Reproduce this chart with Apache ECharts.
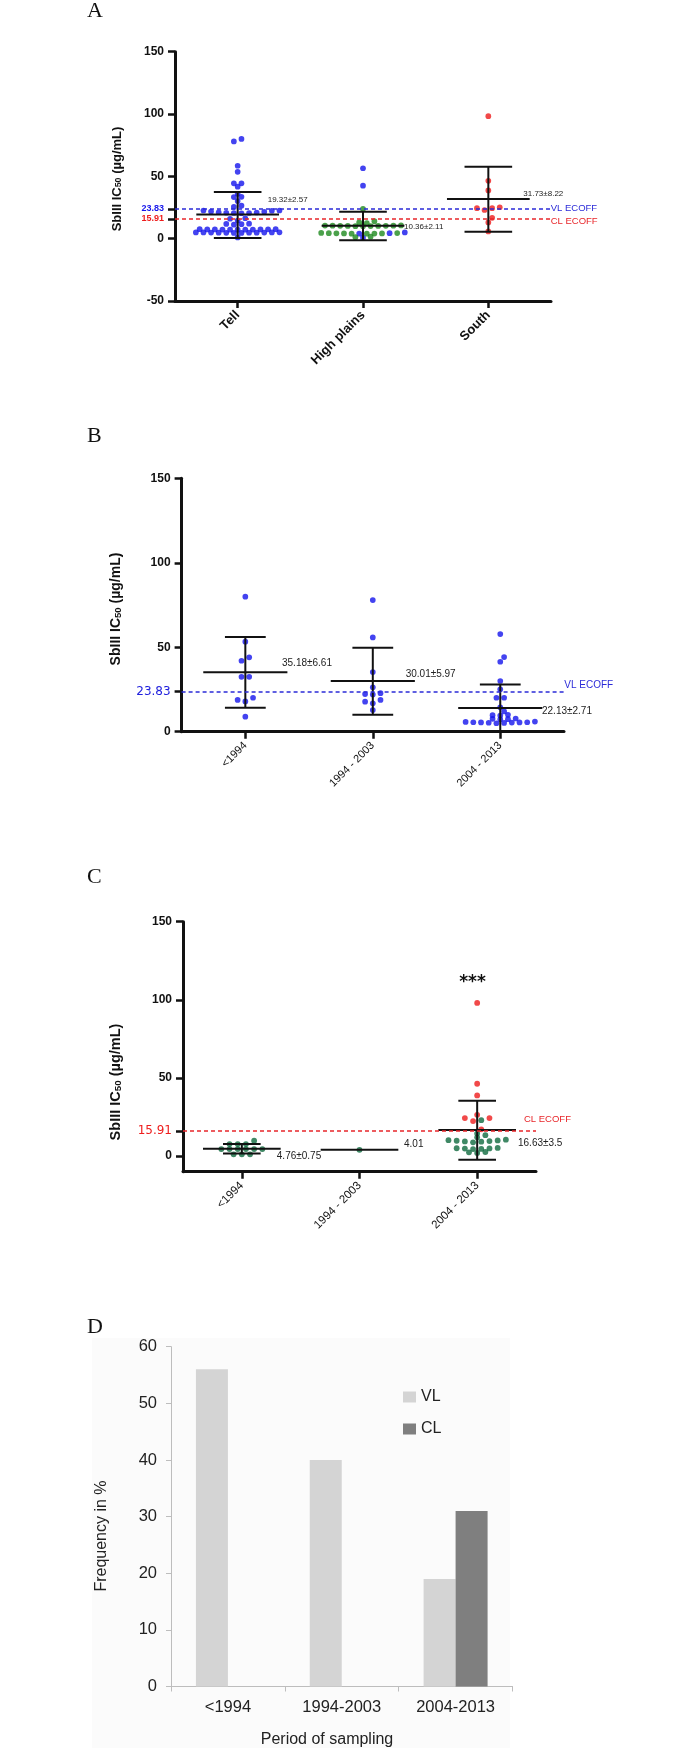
<!DOCTYPE html>
<html><head><meta charset="utf-8">
<script src="https://cdn.jsdelivr.net/npm/echarts@6/dist/echarts.min.js"></script>
<style>html,body{margin:0;padding:0;background:#fff}#c{width:700px;height:1748px}</style>
</head><body><div id="c"></div>
<script>
// ---------- Panel A : by region ----------
const regionCats = ['Tell', 'High plains', 'South'];
const tellBlue = [1.0,
  4.6, 4.6, 4.7, 4.8, 4.8, 4.8, 4.9, 4.9, 5.0, 5.0, 5.0, 5.1,
  7.2, 7.2, 7.2, 7.3, 7.3, 7.4, 7.4, 7.4, 7.5, 7.6, 7.6,
  11.2, 11.6, 11.8, 12.0, 14.6, 16.0, 16.4,
  20.4, 20.6, 20.6, 20.8, 21.0, 21.2, 21.6, 21.8, 22.4, 22.6, 22.6,
  25.5, 26.5, 30.2, 33.4, 33.6, 36.0, 41.7, 44.4, 44.4, 53.6, 58.5, 78.0, 80.0];
const highPlainsBlue = [56.5, 42.5, 5.0, 4.4, 4.0, 0.8];
const highPlainsGreen = [23.9, 14.0, 13.0, 12.4, 10.0, 10.0, 10.1, 10.2, 10.2, 10.3, 10.3, 10.4, 10.4, 10.5, 10.6,
  4.0, 4.0, 4.1, 4.2, 4.2, 4.3, 4.4, 4.5, 4.6, 1.6, 1.2];
const southRed = [98.3, 46.4, 38.7, 25.2, 24.5, 24.5, 23.0, 16.7, 13.0, 5.8];
const regionMean = [19.32, 10.36, 31.73];
const regionLow = [0.5, -1.2, 5.6];
const regionHigh = [37.4, 21.7, 57.8];
const regionLabels = ['19.32\u00b12.57', '10.36\u00b12.11', '31.73\u00b18.22'];
const yTicksA = [-50, 0, 50, 100, 150];

// ---------- Panel B : VL by period ----------
const periodCats = ['<1994', '1994 - 2003', '2004 - 2013'];
const vlBefore1994 = [79.9, 53.3, 44.0, 42.0, 32.5, 32.5, 20.1, 18.8, 17.9, 8.9];
const vl1994to2003 = [77.9, 55.8, 35.3, 26.3, 22.8, 22.3, 22.0, 18.8, 17.8, 16.8, 12.8];
const vl2004to2013 = [57.8, 44.2, 41.4, 30.0, 25.1, 20.1, 20.1, 14.4, 12.0, 10.0, 9.8, 9.6,
  7.8, 7.6, 7.4, 7.3, 5.0, 5.2, 5.3, 5.4, 5.5, 5.5, 5.6, 5.6, 5.8, 6.0];
const vlMean = [35.18, 30.01, 14.0];
const vlLow = [14.2, 10.1, 0];
const vlHigh = [56.0, 49.7, 28.0];
const vlLabels = ['35.18\u00b16.61', '30.01\u00b15.97', '22.13\u00b12.71'];
const yTicksB = [0, 50, 100, 150];

// ---------- Panel C : CL by period ----------
const clBefore1994Green = [9.8, 7.7, 7.7, 7.7, 4.5, 4.5, 4.5, 4.5, 4.5, 4.5, 1.1, 1.1, 1.1];
const cl1994to2003Green = [4.01];
const cl2004to2013Red = [98.0, 46.3, 38.8, 26.4, 24.3, 24.3, 22.4, 17.1];
const cl2004to2013Green = [23.0, 14.5, 13.4, 12.0, 10.5, 10.2, 10.0, 9.8, 9.6, 9.4, 9.2, 8.8,
  5.2, 5.0, 4.9, 4.8, 4.6, 4.5, 2.6, 2.4, 2.0];
const clMean = [4.76, 4.01, 16.63];
const clLow = [1.7, null, -2.4];
const clHigh = [7.7, null, 35.4];
const clLabels = ['4.76\u00b10.75', '4.01', '16.63\u00b13.5'];
const yTicksC = [0, 50, 100, 150];

// ---------- Panel D : frequency ----------
const periodCatsD = ['<1994', '1994-2003', '2004-2013'];
const freqVL = [56, 40, 19];
const freqCL = [0, 0, 31];

const vlEcoff = 23.83;
const clEcoff = 15.91;

// ---------- styling ----------
const BLUE = '#1414ec', GREEN_A = '#1e8a1e', GREEN_C = '#0f6a3e', RED = '#ee1c1c';
const LINE_BLUE = '#2b2bd8', LINE_RED = '#e8262a';
const SANS = "'Liberation Sans', Arial, sans-serif";
const NARROW = "'Liberation Sans Narrow', 'Arial Narrow', 'Liberation Sans', sans-serif";
const gA = {left: 175, top: 51.7, width: 376, height: 249.3};
const gB = {left: 181.6, top: 478.3, width: 382.4, height: 253.4};
const gC = {left: 183, top: 921.7, width: 353, height: 250};
const gD = {left: 171, top: 1346.7, width: 341.5, height: 339.8};

// scatter-dot-plot layout: values close together share a row, rows are centred
function rowLayout(vals, ppu, rowUnits, s, dot) {
  const idx = vals.map((v, i) => i).sort((a, b) => vals[a] - vals[b]);
  const rows = []; let cur = null;
  for (const i of idx) {
    if (!cur || vals[i] - vals[cur[0]] > rowUnits) { cur = [i]; rows.push(cur); } else cur.push(i);
  }
  const off = new Array(vals.length); let prev = null;
  for (const r of rows) {
    const n = r.length; let shift = 0;
    if (prev && (vals[r[0]] - vals[prev.r[prev.r.length - 1]]) * ppu < dot && (n % 2) === (prev.r.length % 2))
      shift = prev.shift === 0 ? s / 2 : 0;
    const pos = [];
    for (let k = 0; k < n; k++) pos.push((k - (n - 1) / 2) * s);
    pos.sort((a, b) => Math.abs(a) - Math.abs(b) || a - b);
    r.forEach((i, k) => { off[i] = pos[k] + shift; });
    prev = {r, shift};
  }
  return off;
}
function dots(groups, ppu, s) {
  const byCat = {};
  groups.forEach(g => g.vals.forEach(v => (byCat[g.cat] = byCat[g.cat] || []).push({v, color: g.color})));
  const out = [];
  Object.keys(byCat).forEach(k => {
    const pts = byCat[k];
    const off = rowLayout(pts.map(p => p.v), ppu, 2.25, s, 5);
    pts.forEach((p, i) => out.push({value: [+k, p.v], symbolOffset: [off[i], 0], itemStyle: {color: p.color}}));
  });
  return out;
}
function errRender(capFrac) {
  return function (params, api) {
    const cat = api.value(0), m = api.value(1), lo = api.value(2), hi = api.value(3);
    const c = api.coord([cat, m]);
    const band = api.size([1, 0])[0];
    const mh = band * 0.33, ch = band * capFrac;
    const st = {stroke: '#111', lineWidth: 2};
    const kids = [{type: 'line', shape: {x1: c[0] - mh, y1: c[1], x2: c[0] + mh, y2: c[1]}, style: st}];
    if (!isNaN(lo) && !isNaN(hi)) {
      const t = api.coord([cat, hi]), b = api.coord([cat, lo]);
      kids.push({type: 'line', shape: {x1: c[0], y1: t[1], x2: c[0], y2: b[1]}, style: st},
        {type: 'line', shape: {x1: c[0] - ch, y1: t[1], x2: c[0] + ch, y2: t[1]}, style: st},
        {type: 'line', shape: {x1: c[0] - ch, y1: b[1], x2: c[0] + ch, y2: b[1]}, style: st});
    }
    return {type: 'group', children: kids};
  };
}
function zip(mean, lo, hi) { return mean.map((m, i) => [i, m, lo[i] == null ? NaN : lo[i], hi[i] == null ? NaN : hi[i]]); }
function ecoffFmt(v) {
  if (Math.abs(v - vlEcoff) < 1e-6) return '{vl|' + v + '}';
  if (Math.abs(v - clEcoff) < 1e-6) return '{cl|' + v + '}';
  return '{n|' + v + '}';
}
function valueAxis(grid, min, max, ticks, richVl, richCl) {
  return {
    type: 'value', gridIndex: grid, min, max, splitLine: {show: false},
    axisLine: {show: true, lineStyle: {color: '#111', width: 3}},
    axisTick: {show: true, length: 7, lineStyle: {color: '#111', width: 2.5}, customValues: ticks},
    axisLabel: {margin: 11, customValues: ticks, formatter: ecoffFmt,
      rich: {n: {fontSize: 12, fontWeight: 'bold', color: '#111', fontFamily: SANS}, vl: richVl, cl: richCl}}
  };
}
function catAxis(grid, data, fontSize, bold) {
  return {
    type: 'category', gridIndex: grid, data,
    axisLine: {show: true, onZero: false, lineStyle: {color: '#111', width: 3}},
    axisTick: {show: true, alignWithLabel: true, length: 7, lineStyle: {color: '#111', width: 2.5}},
    axisLabel: {rotate: 45, interval: 0, margin: 12, fontSize, fontWeight: bold ? 'bold' : 'normal', color: '#111', fontFamily: SANS}
  };
}
function T(x, y, text, o) {
  return {type: 'text', x, y, silent: true, style: Object.assign({text, align: 'left', verticalAlign: 'middle', fill: '#222', fontFamily: SANS}, o || {})};
}
function yTitle(x, y, size) {
  return {type: 'text', x, y, rotation: Math.PI / 2, silent: true, style: {
    text: '{a|SbIII IC}{s|50}{a| (\u00b5g/mL)}', align: 'center', verticalAlign: 'middle', fill: '#111',
    rich: {a: {fontSize: size, fontWeight: 'bold', fontFamily: SANS, lineHeight: size + 4, verticalAlign: 'bottom', fill: '#111'},
      s: {fontSize: size * 0.68, fontWeight: 'bold', fontFamily: SANS, lineHeight: size + 4, verticalAlign: 'bottom', fill: '#111'}}}};
}

const ppuA = gA.height / 200, ppuB = gB.height / 150, ppuC = gC.height / 160;
const dotsA = dots([{cat: 0, vals: tellBlue, color: BLUE}, {cat: 1, vals: highPlainsBlue, color: BLUE},
  {cat: 1, vals: highPlainsGreen, color: GREEN_A}, {cat: 2, vals: southRed, color: RED}], ppuA, 7.6);
const dotsB = dots([{cat: 0, vals: vlBefore1994, color: BLUE}, {cat: 1, vals: vl1994to2003, color: BLUE},
  {cat: 2, vals: vl2004to2013, color: BLUE}], ppuB, 7.7);
const dotsC = dots([{cat: 0, vals: clBefore1994Green, color: GREEN_C}, {cat: 1, vals: cl1994to2003Green, color: GREEN_C},
  {cat: 2, vals: cl2004to2013Green, color: GREEN_C}, {cat: 2, vals: cl2004to2013Red, color: RED}], ppuC, 8.2);

const ml = (lines) => ({silent: true, symbol: 'none', label: {show: false}, animation: false,
  data: lines.map(l => ({yAxis: l[0], lineStyle: {color: l[1], type: [4, 3], width: 1.6}}))});
const gridOpt = g => Object.assign({outerBoundsMode: 'none', containLabel: false}, g);

const chart = echarts.init(document.getElementById('c'), null, {renderer: 'canvas'});
chart.setOption({
  animation: false, backgroundColor: '#fff',
  grid: [gridOpt(gA), gridOpt(gB), gridOpt(gC), gridOpt(gD)],
  xAxis: [catAxis(0, regionCats, 13, true), catAxis(1, periodCats, 11, false), catAxis(2, periodCats, 11.5, false),
    {type: 'category', gridIndex: 3, data: periodCatsD,
      axisLine: {show: true, lineStyle: {color: '#bdbdbd', width: 1}},
      axisTick: {show: true, length: 5, lineStyle: {color: '#bdbdbd'}},
      axisLabel: {fontSize: 16.5, color: '#222', margin: 12, fontFamily: SANS}}],
  yAxis: [
    valueAxis(0, -50, 150, yTicksA.concat([clEcoff, vlEcoff]),
      {fontSize: 9, fontWeight: 'bold', color: BLUE, fontFamily: SANS}, {fontSize: 9, fontWeight: 'bold', color: RED, fontFamily: SANS}),
    valueAxis(1, 0, 150, yTicksB.concat([vlEcoff]),
      {fontSize: 12, color: '#2020dd', fontFamily: "'DejaVu Sans', sans-serif"}, {}),
    valueAxis(2, -10, 150, yTicksC.concat([clEcoff]),
      {}, {fontSize: 12, color: RED, fontFamily: "'DejaVu Sans', sans-serif"}),
    {type: 'value', gridIndex: 3, min: 0, max: 60, interval: 10, splitLine: {show: false},
      axisLine: {show: true, lineStyle: {color: '#bdbdbd', width: 1}},
      axisTick: {show: true, length: 5, lineStyle: {color: '#bdbdbd'}},
      axisLabel: {fontSize: 16.5, color: '#222', margin: 14, fontFamily: SANS}}
  ],
  legend: {show: true, data: ['VL', 'CL'], orient: 'vertical', left: 403, top: 1389, itemWidth: 13, itemHeight: 11,
    itemGap: 16, icon: 'rect', padding: 0, textStyle: {fontSize: 16, color: '#222', fontFamily: SANS}},
  series: [
    {type: 'scatter', xAxisIndex: 0, yAxisIndex: 0, symbolSize: 5.7, data: dotsA, z: 2,
      markLine: ml([[vlEcoff, LINE_BLUE], [clEcoff, LINE_RED]])},
    {type: 'custom', xAxisIndex: 0, yAxisIndex: 0, renderItem: errRender(0.19), encode: {x: 0, y: 1}, z: 4,
      data: zip(regionMean, regionLow, regionHigh)},
    {type: 'scatter', xAxisIndex: 1, yAxisIndex: 1, symbolSize: 5.7, data: dotsB, z: 2,
      markLine: ml([[vlEcoff, LINE_BLUE]])},
    {type: 'custom', xAxisIndex: 1, yAxisIndex: 1, renderItem: errRender(0.16), encode: {x: 0, y: 1}, z: 4,
      data: zip(vlMean, vlLow, vlHigh)},
    {type: 'scatter', xAxisIndex: 2, yAxisIndex: 2, symbolSize: 5.8, data: dotsC, z: 2,
      markLine: ml([[clEcoff, LINE_RED]])},
    {type: 'custom', xAxisIndex: 2, yAxisIndex: 2, renderItem: errRender(0.16), encode: {x: 0, y: 1}, z: 4,
      data: zip(clMean, clLow, clHigh)},
    {type: 'bar', name: 'VL', xAxisIndex: 3, yAxisIndex: 3, data: freqVL, barWidth: 32, barGap: '0%', itemStyle: {color: '#d4d4d4'}},
    {type: 'bar', name: 'CL', xAxisIndex: 3, yAxisIndex: 3, data: freqCL, barWidth: 32, barGap: '0%', itemStyle: {color: '#7f7f7f'}}
  ],
  graphic: [
    {type: 'rect', silent: true, z: -10, shape: {x: 92, y: 1338, width: 418, height: 410}, style: {fill: '#fbfbfb'}},
    T(87, 11, 'A', {fontFamily: "'Liberation Serif', serif", fontSize: 22, fill: '#111'}),
    T(87, 436.7, 'B', {fontFamily: "'Liberation Serif', serif", fontSize: 22, fill: '#111'}),
    T(87, 877.7, 'C', {fontFamily: "'Liberation Serif', serif", fontSize: 22, fill: '#111'}),
    T(87, 1326.8, 'D', {fontFamily: "'Liberation Serif', serif", fontSize: 22, fill: '#111'}),
    yTitle(115, 179, 13), yTitle(114, 609, 14), yTitle(114, 1082, 14.5),
    {type: 'text', x: 102, y: 1536, rotation: Math.PI / 2, silent: true,
      style: {text: 'Frequency in %', align: 'center', verticalAlign: 'middle', fill: '#222', fontSize: 16, fontFamily: SANS}},
    T(327, 1740, 'Period of sampling', {align: 'center', fontSize: 16}),
    T(267.7, 199.3, regionLabels[0], {fontSize: 8}),
    T(404, 227, regionLabels[1], {fontSize: 8}),
    T(523.3, 193.3, regionLabels[2], {fontSize: 8}),
    T(550.7, 208.5, 'VL ECOFF', {fontSize: 9.5, fill: LINE_BLUE}),
    T(550.7, 221, 'CL ECOFF', {fontSize: 9.5, fill: LINE_RED}),
    T(282, 663.7, vlLabels[0], {fontSize: 10, fontFamily: NARROW}),
    T(405.7, 674, vlLabels[1], {fontSize: 10, fontFamily: NARROW}),
    T(542, 711.7, vlLabels[2], {fontSize: 10, fontFamily: NARROW}),
    T(564.3, 685.3, 'VL ECOFF', {fontSize: 10, fill: LINE_BLUE}),
    T(276.8, 1156.7, clLabels[0], {fontSize: 10, fontFamily: NARROW}),
    T(404, 1144, clLabels[1], {fontSize: 10, fontFamily: NARROW}),
    T(518, 1143.3, clLabels[2], {fontSize: 10, fontFamily: NARROW}),
    T(524, 1119.3, 'CL ECOFF', {fontSize: 9.5, fill: LINE_RED}),
    T(472.5, 983, '***', {align: 'center', fontSize: 17, fontWeight: 'bold', fill: '#111', fontFamily: "'DejaVu Sans', sans-serif"})
  ]
});
</script></body></html>
